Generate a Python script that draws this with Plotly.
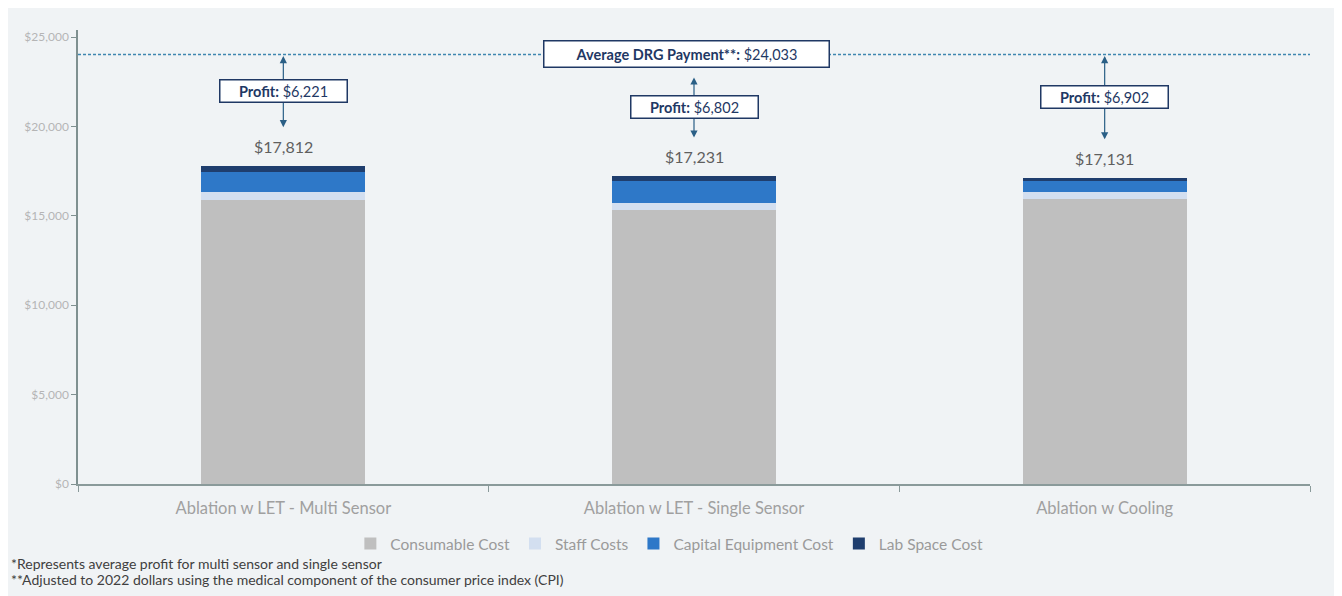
import plotly.graph_objects as go

categories = ["Ablation w LET - Multi Sensor", "Ablation w LET - Single Sensor", "Ablation w Cooling"]
consumable = [15907, 15327, 15933]
staff = [439, 382, 380]
capital = [1084, 1237, 665]
lab_space = [382, 285, 153]
totals = [17812, 17231, 17131]
profits = [6221, 6802, 6902]
drg_payment = 24033
y_ticks = [0, 5000, 10000, 15000, 20000, 25000]
footnotes = [
    "*Represents average profit for multi sensor and single sensor",
    "**Adjusted to 2022 dollars using the medical component of the consumer price index (CPI)",
]

FONT = "Lato, 'Open Sans', sans-serif"
NAVY = "#1f3864"
ARROW = "#2a5f86"

fig = go.Figure()
series = [
    ("Consumable Cost", consumable, "#bfbfbf"),
    ("Staff Costs", staff, "#d3dff0"),
    ("Capital Equipment Cost", capital, "#2e78c8"),
    ("Lab Space Cost", lab_space, "#1f3e6e"),
]
for name, vals, col in series:
    fig.add_trace(go.Bar(x=categories, y=vals, name=name, marker=dict(color=col, line=dict(width=0))))

# total labels
for i, t in enumerate(totals):
    fig.add_annotation(x=i, y=t, xref="x", yref="y", text=f"${t:,}", showarrow=False,
                       yanchor="bottom", yshift=8, font=dict(size=16, color="#5f5f5f", family=FONT))

# DRG dashed line
fig.add_shape(type="line", xref="paper", yref="y", x0=0, x1=1, y0=drg_payment, y1=drg_payment,
              line=dict(color="#3f86b0", width=1.5, dash="3px,2px"))

# profit arrows and boxes
arrow_gap = 2150
for i, (t, p) in enumerate(zip(totals, profits)):
    top = drg_payment - (1200 if i == 1 else 0)
    bottom = t + arrow_gap
    fig.add_annotation(x=i, y=bottom, ax=i, ay=top, xref="x", yref="y", axref="x", ayref="y",
                       text="", showarrow=True, arrowhead=2, startarrowhead=2, arrowside="end+start",
                       arrowsize=1.2, startarrowsize=1.2, arrowwidth=1.2, arrowcolor=ARROW)
    fig.add_annotation(x=i, y=(top + bottom) / 2, xref="x", yref="y", showarrow=False,
                       text=f"<b>Profit:</b> ${p:,}", bgcolor="white", bordercolor=NAVY,
                       borderwidth=1.5, borderpad=2, width=122, height=17,
                       font=dict(size=14.5, color=NAVY, family=FONT))

# DRG label box
fig.add_annotation(x=1, y=drg_payment, xref="x", yref="y", showarrow=False,
                   text=f"<b>Average DRG Payment**:</b> ${drg_payment:,}", bgcolor="white",
                   bordercolor=NAVY, borderwidth=1.5, borderpad=2, xshift=-8, width=280, height=21,
                   font=dict(size=14.5, color=NAVY, family=FONT))

# footnotes
for k, txt in enumerate(footnotes):
    fig.add_annotation(x=0, y=0, xref="paper", yref="paper", xanchor="left", yanchor="middle",
                       text=txt, showarrow=False, xshift=-69, yshift=-79 - 16 * k,
                       font=dict(size=14, color="#404040", family=FONT))

fig.update_layout(
    width=1334, height=588,
    barmode="stack", bargap=0.6,
    paper_bgcolor="#f0f3f5", plot_bgcolor="#f0f3f5",
    margin=dict(l=70, r=32, t=22, b=112),
    font=dict(family=FONT),
    legend=dict(orientation="h", x=0.48, xanchor="center", y=-0.132, yanchor="middle",
                traceorder="normal", font=dict(size=15.5, color="#9a9a9a", family=FONT),
                bgcolor="rgba(0,0,0,0)", itemwidth=30),
    showlegend=True,
)
fig.update_xaxes(showgrid=False, showline=True, linecolor="#8a9a9a", linewidth=1.5,
                 ticks="outside", tickson="boundaries", ticklen=6, tickcolor="#8a9a9a",
                 ticklabelstandoff=8,
                 tickfont=dict(size=16.5, color="#a0a0a0", family=FONT))
fig.update_yaxes(range=[0, 25400], tickvals=y_ticks, ticktext=[f"${v:,}" for v in y_ticks],
                 showgrid=False, showline=True, linecolor="#7f9090", linewidth=1.5,
                 ticks="outside", ticklen=5, tickcolor="#7f9090", zeroline=False,
                 tickfont=dict(size=12, color="#b5b5b5", family=FONT))

fig.write_html("out.html")
